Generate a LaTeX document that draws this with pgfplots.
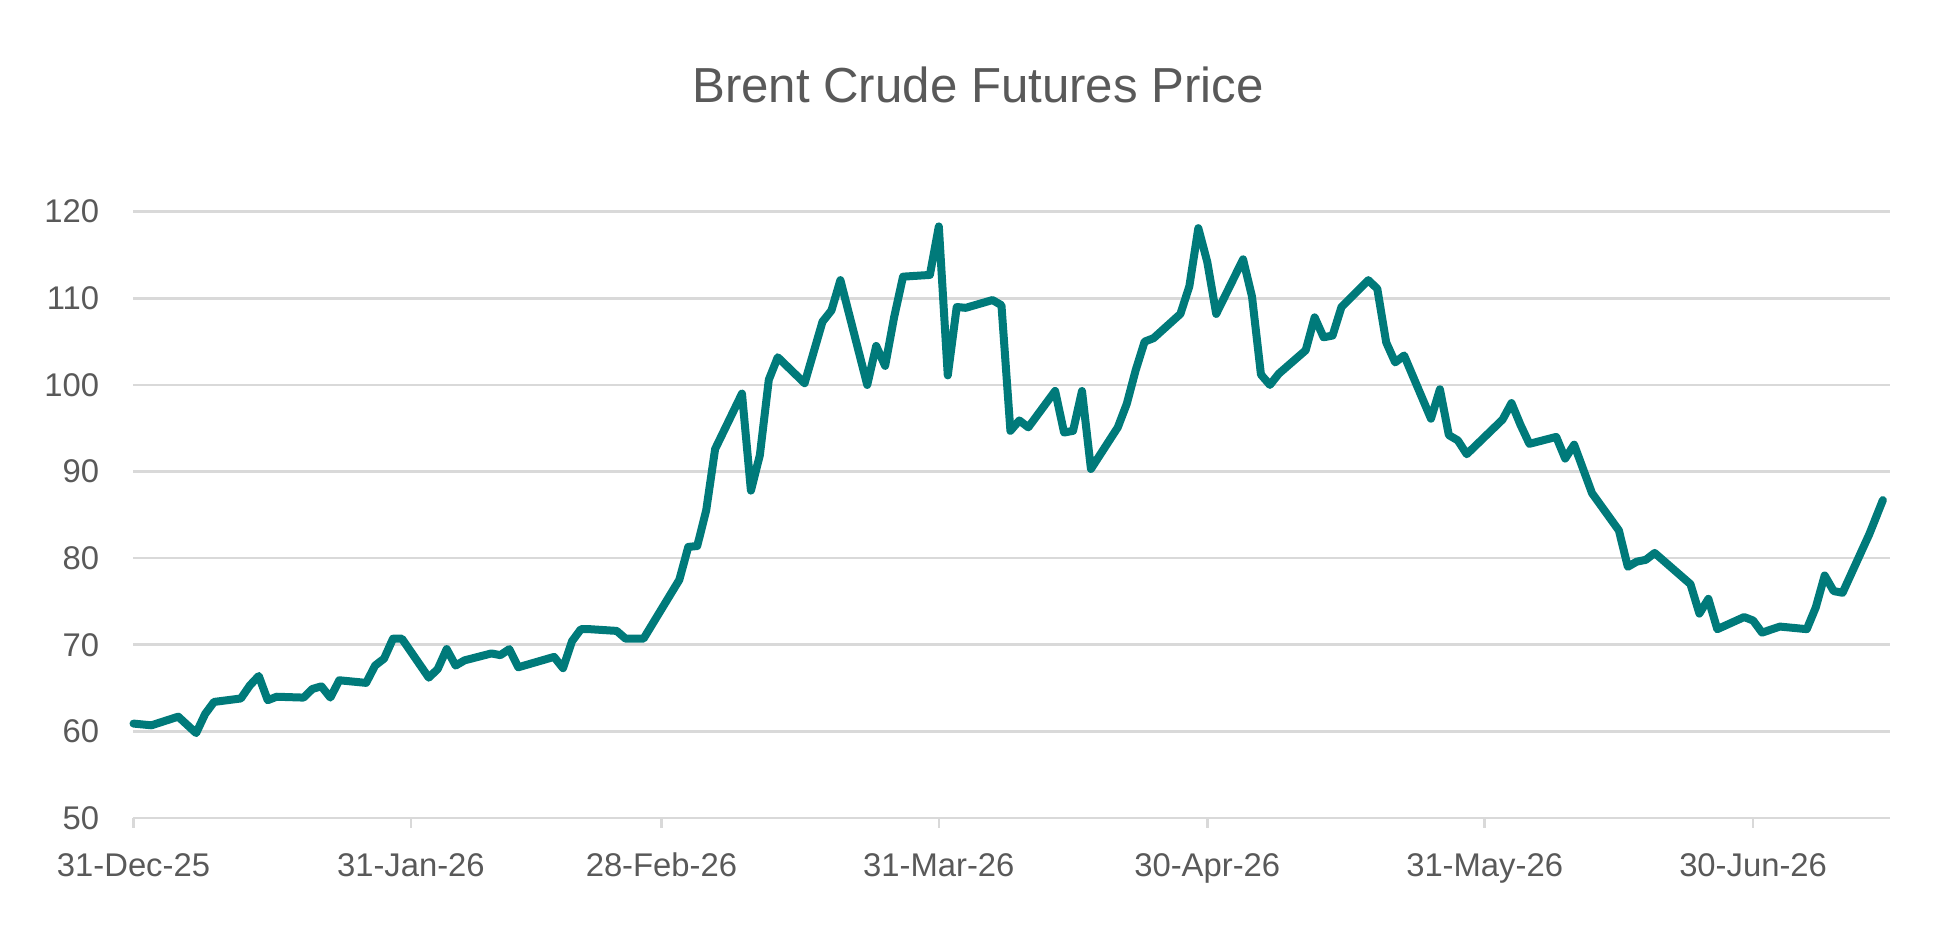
\documentclass[border=0pt]{standalone}
\usepackage{fontspec}
\setmainfont{Liberation Sans}
\usepackage{pgfplots}
\pgfplotsset{compat=1.18}
\definecolor{brentteal}{RGB}{0,122,122}
\definecolor{txtgray}{RGB}{89,89,89}
\definecolor{gridgray}{RGB}{217,217,217}
\begin{document}
\begin{tikzpicture}
\begin{axis}[
  at={(0,0)}, anchor=south west,
  scale only axis, width=878.25pt, height=303.15pt,
  xmin=0, xmax=196.3, ymin=50, ymax=120,
  xtick={0,31,59,90,120,151,181},
  xticklabels={31-Dec-25,31-Jan-26,28-Feb-26,31-Mar-26,30-Apr-26,31-May-26,30-Jun-26},
  ytick={50,60,...,120},
  ymajorgrids, major grid style={gridgray, line width=1.3pt},
  axis x line*=bottom, axis y line*=left,
  x axis line style={gridgray, line width=1.3pt, -},
  y axis line style={draw=none},
  tick align=outside, major tick length=5pt,
  xtick style={gridgray, line width=1.3pt},
  ytick style={draw=none},
  tick label style={font=\fontsize{16.4}{19}\selectfont, text=txtgray, inner sep=0pt},
  xticklabel style={anchor=north, yshift=-12pt, text height=12pt, text depth=0pt},
  yticklabel style={anchor=east, xshift=-12pt},
  /pgf/number format/assume math mode=true,
  clip=false,
]
\addplot[brentteal, line width=4pt, line join=round, line cap=round] coordinates {
(0,60.9) (2,60.7) (5,61.7) (7,59.8) (8,62.0) (9,63.4) (12,63.8) (13,65.3) (14,66.4)
(15,63.6) (16,64.0) (19,63.9) (20,64.9) (21,65.2) (22,63.9) (23,65.9) (26,65.6)
(27,67.6) (28,68.4) (29,70.7) (30,70.7) (33,66.2) (34,67.2) (35,69.5) (36,67.6)
(37,68.2) (40,69.0) (41,68.8) (42,69.5) (43,67.4) (47,68.6) (48,67.3) (49,70.4)
(50,71.8) (51,71.8) (54,71.6) (55,70.7) (57,70.7) (61,77.5) (62,81.3) (63,81.4)
(64,85.5) (65,92.6) (68,99.0) (69,87.8) (70,91.9) (71,100.6) (72,103.2) (75,100.2)
(77,107.3) (78,108.6) (79,112.1) (82,100.0) (83,104.5) (84,102.2) (85,107.8) (86,112.5)
(89,112.7) (90,118.3) (91,101.1) (92,109.0) (93,108.9) (96,109.8) (97,109.2)
(98,94.7) (99,95.9) (100,95.1) (103,99.3) (104,94.5) (105,94.7) (106,99.3) (107,90.3)
(110,95.1) (111,97.8) (112,101.7) (113,105.0) (114,105.4) (117,108.2) (118,111.4)
(119,118.1) (120,114.2) (121,108.2) (124,114.5) (125,110.2) (126,101.2) (127,100.0)
(128,101.3) (131,104.0) (132,107.8) (133,105.5) (134,105.7) (135,109.0) (138,112.1)
(139,111.1) (140,104.9) (141,102.6) (142,103.4) (145,96.1) (146,99.5) (147,94.2)
(148,93.6) (149,92.0) (153,96.0) (154,97.9) (155,95.4) (156,93.2) (159,94.0)
(160,91.5) (161,93.1) (163,87.5) (166,83.2) (167,79.0) (168,79.6) (169,79.8)
(170,80.6) (174,77.0) (175,73.6) (176,75.3) (177,71.8) (180,73.2) (181,72.8)
(182,71.4) (184,72.1) (187,71.8) (188,74.3) (189,78.0) (190,76.2) (191,76.0)
(194,82.8) (195.5,86.7)
};
\end{axis}
\node[font=\fontsize{24.6}{29}\selectfont, text=txtgray, anchor=center, inner sep=0pt] at (422.25pt,366.5pt) {Brent Crude Futures Price};
\pgfresetboundingbox
\path[use as bounding box] (-66.75pt,-59pt) rectangle (911.25pt,409pt);
\end{tikzpicture}
\end{document}
